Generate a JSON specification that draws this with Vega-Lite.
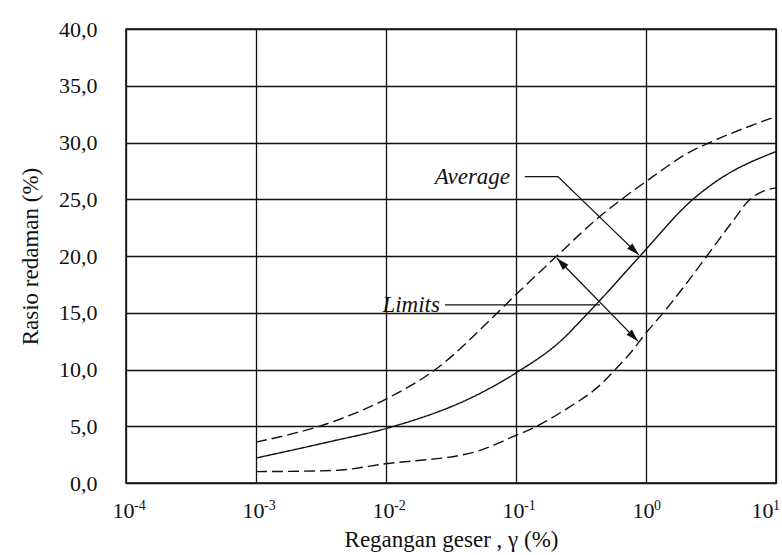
{
  "$schema": "https://vega.github.io/schema/vega-lite/v6.json",
  "width": 650,
  "height": 454,
  "autosize": "none",
  "padding": {"left": 126, "top": 29, "right": 6, "bottom": 72},
  "background": "#ffffff",
  "config": {
    "view": {"stroke": "#111111", "strokeWidth": 1.5},
    "font": "Liberation Serif",
    "axis": {
      "labelFont": "Liberation Serif",
      "titleFont": "Liberation Serif",
      "labelColor": "#111111",
      "titleColor": "#111111",
      "titleFontWeight": "normal",
      "gridColor": "#111111",
      "gridOpacity": 1,
      "gridWidth": 1.3,
      "domain": false,
      "ticks": false
    }
  },
  "datasets": {
    "curves": [
      {"series": "upper", "x": 0.001, "y": 3.6},
      {"series": "upper", "x": 0.0039, "y": 5.4},
      {"series": "upper", "x": 0.01, "y": 7.4},
      {"series": "upper", "x": 0.024, "y": 10.0},
      {"series": "upper", "x": 0.072, "y": 15.0},
      {"series": "upper", "x": 0.1, "y": 16.6},
      {"series": "upper", "x": 0.206, "y": 20.0},
      {"series": "upper", "x": 0.443, "y": 23.5},
      {"series": "upper", "x": 0.65, "y": 25.0},
      {"series": "upper", "x": 1.1, "y": 26.9},
      {"series": "upper", "x": 2.2, "y": 29.2},
      {"series": "upper", "x": 3.1, "y": 30.0},
      {"series": "upper", "x": 10, "y": 32.3},
      {"series": "avg", "x": 0.001, "y": 2.2},
      {"series": "avg", "x": 0.0039, "y": 3.7},
      {"series": "avg", "x": 0.01, "y": 4.8},
      {"series": "avg", "x": 0.053, "y": 7.9},
      {"series": "avg", "x": 0.1, "y": 9.7},
      {"series": "avg", "x": 0.23, "y": 12.7},
      {"series": "avg", "x": 0.327, "y": 14.5},
      {"series": "avg", "x": 0.443, "y": 16.1},
      {"series": "avg", "x": 0.9, "y": 20.0},
      {"series": "avg", "x": 2.3, "y": 25.0},
      {"series": "avg", "x": 3.71, "y": 26.8},
      {"series": "avg", "x": 10, "y": 29.2},
      {"series": "lower", "x": 0.001, "y": 1.0},
      {"series": "lower", "x": 0.0039, "y": 1.1},
      {"series": "lower", "x": 0.01, "y": 1.7},
      {"series": "lower", "x": 0.047, "y": 2.7},
      {"series": "lower", "x": 0.1, "y": 4.2},
      {"series": "lower", "x": 0.133, "y": 4.8},
      {"series": "lower", "x": 0.25, "y": 6.6},
      {"series": "lower", "x": 0.44, "y": 8.6},
      {"series": "lower", "x": 0.57, "y": 9.9},
      {"series": "lower", "x": 0.79, "y": 11.7},
      {"series": "lower", "x": 0.95, "y": 12.9},
      {"series": "lower", "x": 1.45, "y": 15.4},
      {"series": "lower", "x": 1.93, "y": 17.2},
      {"series": "lower", "x": 2.94, "y": 20.0},
      {"series": "lower", "x": 4.67, "y": 23.1},
      {"series": "lower", "x": 6.31, "y": 25.0},
      {"series": "lower", "x": 7.94, "y": 25.7},
      {"series": "lower", "x": 10, "y": 26.0}
    ],
    "leaders": [
      {"id": "avg", "order": 1, "x": 0.117, "y": 27.0},
      {"id": "avg", "order": 2, "x": 0.21, "y": 27.0},
      {"id": "avg", "order": 3, "x": 0.88, "y": 20.1},
      {"id": "lim", "order": 1, "x": 0.0284, "y": 15.7},
      {"id": "lim", "order": 2, "x": 0.443, "y": 15.7},
      {"id": "dbl", "order": 1, "x": 0.2065, "y": 19.8},
      {"id": "dbl", "order": 2, "x": 0.867, "y": 12.5}
    ],
    "heads": [
      {"x": 0.88, "y": 20.1, "angle": 134},
      {"x": 0.2065, "y": 19.8, "angle": 316},
      {"x": 0.867, "y": 12.5, "angle": 136}
    ],
    "labels": [
      {"x": 0.09, "y": 27.0, "text": "Average"},
      {"x": 0.026, "y": 15.7, "text": "Limits"}
    ],
    "exps": [
      {"x": 0.0001, "exp": "-4"},
      {"x": 0.001, "exp": "-3"},
      {"x": 0.01, "exp": "-2"},
      {"x": 0.1, "exp": "-1"},
      {"x": 1, "exp": "0"},
      {"x": 10, "exp": "1"}
    ]
  },
  "layer": [
    {
      "data": {"name": "curves"},
      "mark": {"type": "line", "interpolate": "monotone", "color": "#111111", "strokeWidth": 1.4},
      "encoding": {
        "x": {
          "field": "x", "type": "quantitative",
          "scale": {"type": "log", "domain": [0.0001, 10], "nice": false},
          "axis": {
            "values": [0.0001, 0.001, 0.01, 0.1, 1, 10],
            "labelExpr": "'10'",
            "labelFontSize": 22,
            "labelPadding": 17,
            "labelFlush": false,
            "labelOverlap": false,
            "labelOffset": {"condition": {"test": "datum.value > 5", "value": -14}, "value": -3},
            "title": "Regangan geser , γ (%)",
            "titleFontSize": 23,
            "titlePadding": 7,
            "grid": true
          }
        },
        "y": {
          "field": "y", "type": "quantitative",
          "scale": {"domain": [0, 40], "nice": false},
          "axis": {
            "values": [0, 5, 10, 15, 20, 25, 30, 35, 40],
            "labelExpr": "replace(format(datum.value, '.1f'), '.', ',')",
            "labelFontSize": 22,
            "labelPadding": 29,
            "title": "Rasio redaman (%)",
            "titleFontSize": 23,
            "titlePadding": 16,
            "grid": true
          }
        },
        "detail": {"field": "series"},
        "strokeDash": {
          "field": "series", "type": "nominal",
          "scale": {"domain": ["upper", "avg", "lower"], "range": [[11, 5], [1, 0], [11, 5]]},
          "legend": null
        }
      }
    },
    {
      "data": {"name": "leaders"},
      "mark": {"type": "line", "color": "#111111", "strokeWidth": 1.3},
      "encoding": {
        "x": {"field": "x", "type": "quantitative"},
        "y": {"field": "y", "type": "quantitative"},
        "detail": {"field": "id"},
        "order": {"field": "order"}
      }
    },
    {
      "data": {"name": "heads"},
      "mark": {"type": "point", "shape": "M0,0L-0.9,3L0.9,3Z", "filled": true, "color": "#111111", "size": 70, "opacity": 1},
      "encoding": {
        "x": {"field": "x", "type": "quantitative"},
        "y": {"field": "y", "type": "quantitative"},
        "angle": {"field": "angle", "type": "quantitative", "scale": null}
      }
    },
    {
      "data": {"name": "labels"},
      "mark": {"type": "text", "align": "right", "baseline": "middle", "fontStyle": "italic", "fontSize": 23, "color": "#111111", "font": "Liberation Serif"},
      "encoding": {
        "x": {"field": "x", "type": "quantitative"},
        "y": {"field": "y", "type": "quantitative"},
        "text": {"field": "text"}
      }
    },
    {
      "data": {"name": "exps"},
      "transform": [{"filter": "datum.x < 5"}],
      "mark": {"type": "text", "align": "left", "baseline": "alphabetic", "fontSize": 14, "dx": 8, "dy": 27, "color": "#111111", "font": "Liberation Serif"},
      "encoding": {
        "x": {"field": "x", "type": "quantitative"},
        "y": {"datum": 0},
        "text": {"field": "exp"}
      }
    },
    {
      "data": {"name": "exps"},
      "transform": [{"filter": "datum.x > 5"}],
      "mark": {"type": "text", "align": "left", "baseline": "alphabetic", "fontSize": 14, "dx": -3, "dy": 27, "color": "#111111", "font": "Liberation Serif"},
      "encoding": {
        "x": {"field": "x", "type": "quantitative"},
        "y": {"datum": 0},
        "text": {"field": "exp"}
      }
    }
  ]
}
